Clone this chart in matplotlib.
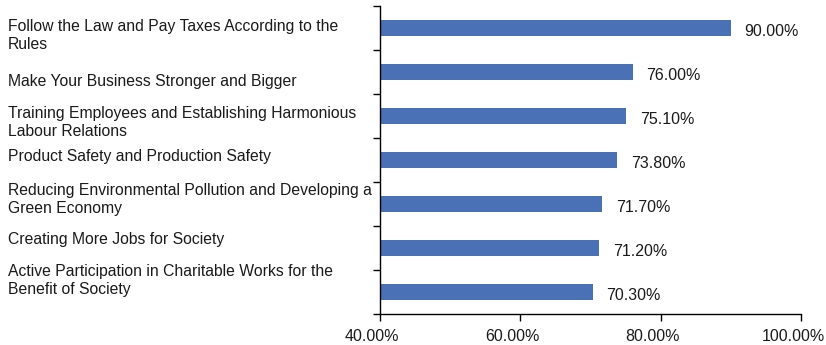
import matplotlib
matplotlib.use("Agg")
import matplotlib.pyplot as plt
import matplotlib.transforms as mtransforms

plt.rcParams['font.family'] = ['Liberation Sans', 'DejaVu Sans']

categories = [
    "Follow the Law and Pay Taxes According to the\nRules",
    "Make Your Business Stronger and Bigger",
    "Training Employees and Establishing Harmonious\nLabour Relations",
    "Product Safety and Production Safety",
    "Reducing Environmental Pollution and Developing a\nGreen Economy",
    "Creating More Jobs for Society",
    "Active Participation in Charitable Works for the\nBenefit of Society",
]
values = [90.0, 76.0, 75.1, 73.8, 71.7, 71.2, 70.3]
x_ticks = [40, 60, 80, 100]

# vertical nudge (points) of each category label relative to its band centre
label_nudge = [-5.4, -6.9, -4.7, 2.5, 2.9, 6.1, 8.6]

BAR_COLOR = "#4a70b5"

fig = plt.figure(figsize=(8.26, 3.45), dpi=100)
ax = fig.add_axes([380 / 826, 1 - 314 / 345, 421 / 826, 308 / 345])

ypos = list(range(len(categories)))
ax.barh(ypos, values, height=0.36, color=BAR_COLOR, left=0)

ax.set_xlim(40, 100)
ax.set_ylim(len(categories) - 0.5, -0.5)

ax.set_xticks(x_ticks)
ax.set_xticklabels([f"{t:.2f}%" for t in x_ticks], fontsize=11.5)
ax.set_yticks([i - 0.5 for i in range(len(categories) + 1)])
ax.set_yticklabels([])

for side in ("top", "right"):
    ax.spines[side].set_visible(False)
for side in ("left", "bottom"):
    ax.spines[side].set_color("black")
    ax.spines[side].set_linewidth(1.0)
ax.tick_params(axis="both", direction="out", length=5, width=1.0, color="black")
ax.tick_params(axis="x", pad=6, labelcolor="#1a1a1a")

# x tick labels sit slightly left of their ticks
shift = mtransforms.ScaledTranslation(-8 / 100, 0, fig.dpi_scale_trans)
for lbl in ax.get_xticklabels():
    lbl.set_transform(lbl.get_transform() + shift)

# value labels beside each bar
for y, v in zip(ypos, values):
    ax.annotate(f"{v:.2f}%", xy=(v, y), xytext=(10, -2.2),
                textcoords="offset points", ha="left", va="center",
                fontsize=11.5, color="#1a1a1a")

# category labels on the left side of the figure
trans = mtransforms.blended_transform_factory(fig.transFigure, ax.transData)
for y, text, dy in zip(ypos, categories, label_nudge):
    t = mtransforms.offset_copy(trans, fig=fig, x=0, y=dy, units="points")
    fig.text(8 / 826, y, text, transform=t, ha="left", va="center",
             fontsize=11.35, linespacing=1.25, color="#1a1a1a")

fig.savefig("out.png", dpi=100)
